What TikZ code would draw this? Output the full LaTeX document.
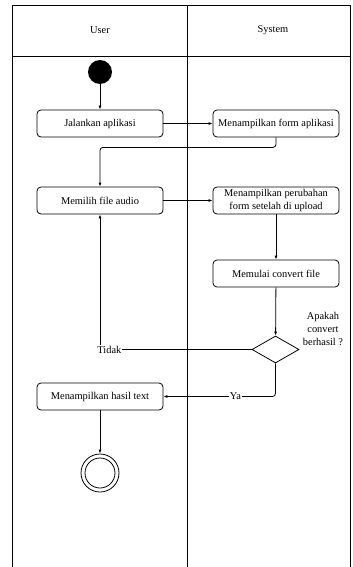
\documentclass[tikz,border=0pt]{standalone}
\usepackage{fontspec}
\setmainfont{Liberation Serif}
\usetikzlibrary{arrows.meta,shapes.geometric}
\begin{document}
\begin{tikzpicture}[x=1pt,y=-1pt,
  every node/.style={font=\fontsize{10.4}{13}\selectfont},
  lane/.style={line width=0.8pt},
  act/.style={draw, rounded corners=4pt, minimum width=126pt, minimum height=27pt, align=center, inner sep=1pt, line width=0.8pt},
  flow/.style={draw, line width=0.8pt, -{Latex[length=4pt,width=3pt]}},
  lbl/.style={fill=white, inner sep=1pt}]
\useasboundingbox (0,0) rectangle (353,567);
% swimlanes
\draw[lane] (12,567) -- (12,5) -- (350,5) -- (350,567);
\draw[lane] (187.5,5) -- (187.5,567);
\draw[lane] (12,56) -- (350,56);
\node (huser) at (100,30) {User};
\node (hsys) at (273,30) {System};
% nodes
\node[circle, fill=black, minimum size=24pt, inner sep=0pt] (start) at (100,72) {};
\node[act] (j) at (100,123.5) {Jalankan aplikasi};
\node[act] (mf) at (276,123.5) {Menampilkan form aplikasi};
\node[act] (mp) at (100,200.5) {Memilih file audio};
\node[act] (mpf) at (276,200.5) {Menampilkan perubahan\\form setelah di upload};
\node[act] (mc) at (276,273.5) {Memulai convert file};
\node[diamond, draw, line width=0.8pt, minimum width=47pt, minimum height=27pt, inner sep=0pt] (d) at (275.5,349.5) {};
\node[align=center] (dq) at (323,329) {Apakah\\convert\\berhasil ?};
\node[act] (mh) at (100,396.5) {Menampilkan hasil text};
\node[circle, draw, line width=0.8pt, minimum size=38pt, inner sep=0pt] (end) at (100,473) {};
\node[circle, draw, line width=0.8pt, minimum size=30pt, inner sep=0pt] (endin) at (100,473) {};
% edges
\draw[flow] (start) -- (j);
\draw[flow] (j) -- (mf);
\draw[flow, rounded corners=3pt] (mf.south) -- ++(0,10) -| (mp.north);
\draw[flow] (mp) -- (mpf);
\draw[flow] (mpf) -- (mc);
\draw[flow] (mc) -- (d);
\draw[flow] (d.west) -| node[lbl, pos=0.469] {Tidak} (mp.south);
\draw[flow, rounded corners=3pt] (d.south) |- node[lbl, pos=0.679] {Ya} (mh.east);
\draw[flow] (mh) -- (end);
\end{tikzpicture}
\end{document}
